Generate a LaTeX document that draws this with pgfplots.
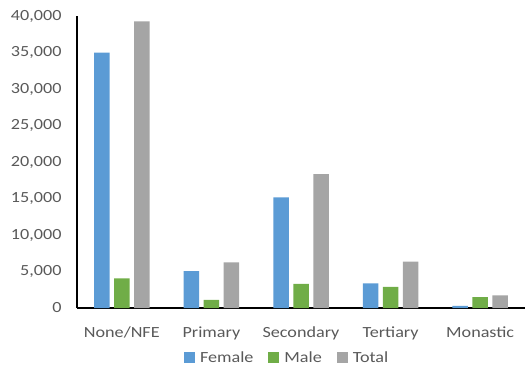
\documentclass[border=0pt]{standalone}
\usepackage{pgfplots}
\pgfplotsset{compat=1.18}
\usepackage{fontspec}
\setmainfont{Carlito}[FakeStretch=1.17]
\definecolor{fem}{HTML}{5B9BD5}
\definecolor{mal}{HTML}{70AD47}
\definecolor{tot}{HTML}{A5A5A5}
\definecolor{txt}{HTML}{595959}
\begin{document}
\begin{tikzpicture}
\begin{axis}[
  at={(0,0)}, anchor=south west,
  scale only axis,
  width=448bp, height=292bp,
  ybar=4.5bp, bar width=15.5bp,
  xmin=-0.5, xmax=4.5,
  ymin=0, ymax=40000,
  xtick=data,
  xticklabels={None/NFE,Primary,Secondary,Tertiary,Monastic},
  ytick={0,5000,...,40000},
  axis x line*=bottom, axis y line*=left,
  axis line style={black, line width=1.2bp, -},
  major tick length=0pt,
  tick label style={font=\fontsize{15.5bp}{18bp}\selectfont, text=txt},
  yticklabel style={xshift=-12bp},
  xticklabel style={yshift=-15bp},
  /pgf/number format/assume math mode=true,
  /pgf/number format/1000 sep={,},
  scaled y ticks=false,
  legend columns=3,
  legend style={draw=none, fill=none, at={(0.468,-0.171)}, anchor=center,
    font=\fontsize{15.5bp}{18bp}\selectfont, text=txt,
    /tikz/every odd column/.append style={column sep=4bp},
    /tikz/every even column/.append style={column sep=14bp},
    nodes={inner xsep=1bp}},
  legend image code/.code={\fill[#1] (0bp,-5.5bp) rectangle (11bp,5.5bp);},
  every axis plot/.append style={draw=none},
]
\addplot[fill=fem] coordinates {(0,35000) (1,5050) (2,15150) (3,3380) (4,300)};
\addplot[fill=mal] coordinates {(0,4070) (1,1100) (2,3290) (3,2880) (4,1500)};
\addplot[fill=tot] coordinates {(0,39250) (1,6260) (2,18350) (3,6340) (4,1740)};
\legend{Female,Male,Total}
\end{axis}
\pgfresetboundingbox
\path[use as bounding box] (-77bp,-60bp) rectangle (450bp,308bp);
\end{tikzpicture}
\end{document}
